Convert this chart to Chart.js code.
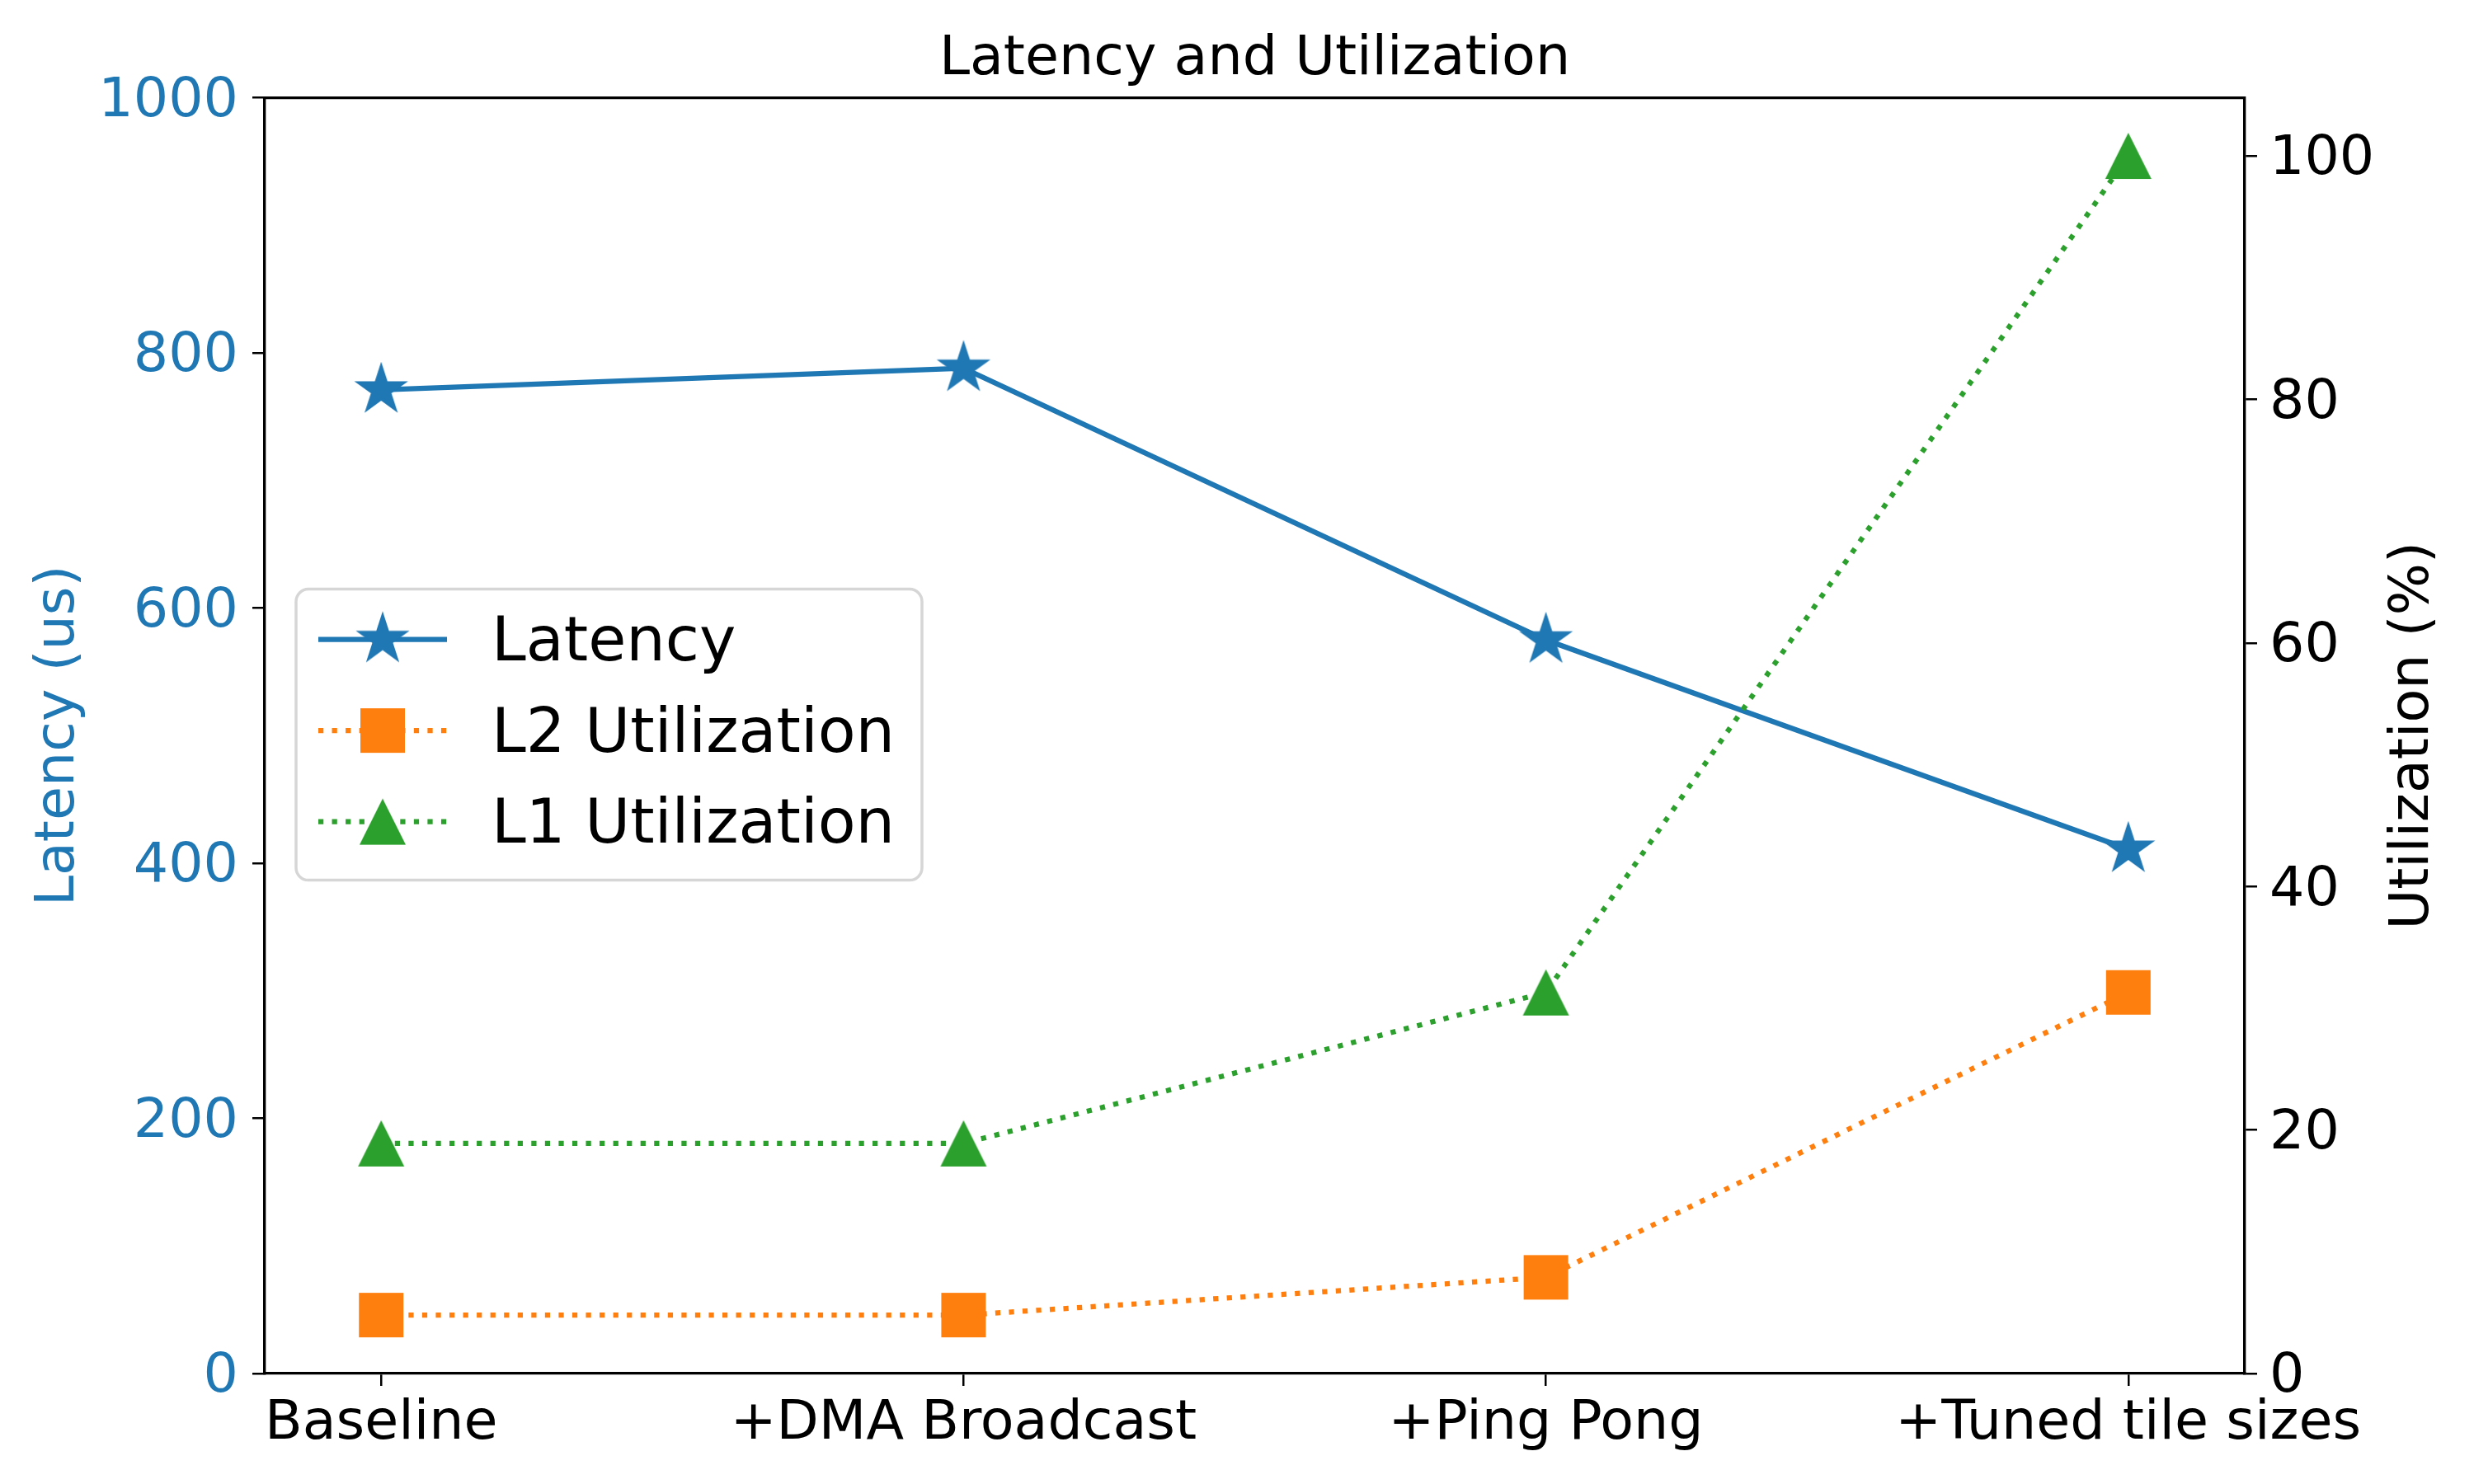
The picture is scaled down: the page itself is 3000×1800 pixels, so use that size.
<!DOCTYPE html>
<html><head><meta charset="utf-8">
<script src="https://cdn.jsdelivr.net/npm/chart.js@4.4.1/dist/chart.umd.min.js"></script>
<style>html,body{margin:0;padding:0;background:#fff;}#wrap{width:3000px;height:1800px;position:relative;}</style>
</head><body><div id="wrap"><canvas id="c"></canvas></div>
<script>
// ---- data ----
const categories = ['Baseline', '+DMA Broadcast', '+Ping Pong', '+Tuned tile sizes'];
const latency = [771, 788, 575, 411];
const l2Util = [4.8, 4.8, 7.9, 31.3];
const l1Util = [18.9, 18.9, 31.3, 100];
const latencyTicks = [0, 200, 400, 600, 800, 1000];
const utilTicks = [0, 20, 40, 60, 80, 100];
const seriesNames = ['Latency', 'L2 Utilization', 'L1 Utilization'];
const titleText = 'Latency and Utilization';
const leftAxisTitle = 'Latency (us)';
const rightAxisTitle = 'Utilization (%)';

// ---- styles ----
const FONT = 'DejaVu Sans';
const BLUE = '#1f77b4', ORANGE = '#ff7f0e', GREEN = '#2ca02c';
const LW = 6.25, DOT = [6.25, 10.3];
const TEXT_DY = 5; // shift of 'middle' baseline to centre cap height

function markerCanvas(kind, color) {
  const s = 76; const c = document.createElement('canvas'); c.width = s; c.height = s;
  const g = c.getContext('2d'); const cx = s / 2, cy = s / 2; g.fillStyle = color; g.beginPath();
  if (kind === 'star') {
    const R = 34.3, r = R * 0.381966;
    for (let k = 0; k < 10; k++) { const a = -Math.PI / 2 + k * Math.PI / 5; const rr = k % 2 ? r : R; g.lineTo(cx + rr * Math.cos(a), cy + rr * Math.sin(a)); }
  } else if (kind === 'square') {
    const h = 27; g.rect(cx - h, cy - h, 2 * h, 2 * h);
  } else {
    const h = 28; g.moveTo(cx, cy - h); g.lineTo(cx + h, cy + h); g.lineTo(cx - h, cy + h);
  }
  g.closePath(); g.fill(); return c;
}
const markers = [markerCanvas('star', BLUE), markerCanvas('square', ORANGE), markerCanvas('tri', GREEN)];
const colors = [BLUE, ORANGE, GREEN];
const dashes = [[], DOT, DOT];

const toXY = arr => arr.map((v, i) => ({x: i, y: v}));

const frameAndLegend = {
  id: 'frameAndLegend',
  afterDraw(chart) {
    const ctx = chart.ctx, ca = chart.chartArea;
    ctx.save();
    // top spine
    ctx.strokeStyle = '#000'; ctx.lineWidth = 3.33;
    ctx.beginPath(); ctx.moveTo(ca.left, ca.top); ctx.lineTo(ca.right, ca.top); ctx.stroke();
    // title, centred over the plot area
    ctx.font = '66.67px "' + FONT + '"'; ctx.fillStyle = '#000'; ctx.textAlign = 'center'; ctx.textBaseline = 'middle';
    ctx.fillText(titleText, (ca.left + ca.right) / 2, ca.top - 50.6 + TEXT_DY);
    // right axis title (reads bottom to top)
    ctx.save();
    ctx.translate(ca.right + 200 + TEXT_DY, (ca.top + ca.bottom) / 2); ctx.rotate(-Math.PI / 2);
    ctx.fillText(rightAxisTitle, 0, 0); ctx.restore();
    // legend
    const bx = ca.left + 38, by = ca.top + 596, bw = 759, bh = 353, rr = 15;
    ctx.beginPath();
    ctx.moveTo(bx + rr, by); ctx.lineTo(bx + bw - rr, by); ctx.arcTo(bx + bw, by, bx + bw, by + rr, rr);
    ctx.lineTo(bx + bw, by + bh - rr); ctx.arcTo(bx + bw, by + bh, bx + bw - rr, by + bh, rr);
    ctx.lineTo(bx + rr, by + bh); ctx.arcTo(bx, by + bh, bx, by + bh - rr, rr);
    ctx.lineTo(bx, by + rr); ctx.arcTo(bx, by, bx + rr, by, rr); ctx.closePath();
    ctx.fillStyle = 'rgba(255,255,255,0.8)'; ctx.fill();
    ctx.strokeStyle = '#d6d6d6'; ctx.lineWidth = 3.5; ctx.stroke();
    chart.data.datasets.forEach((ds, i) => {
      const y = by + 61 + i * 110.5;
      ctx.save();
      ctx.strokeStyle = colors[i]; ctx.lineWidth = LW; ctx.setLineDash(dashes[i]); ctx.lineCap = 'butt';
      ctx.beginPath(); ctx.moveTo(bx + 27, y); ctx.lineTo(bx + 183, y); ctx.stroke();
      ctx.restore();
      const m = markers[i];
      ctx.drawImage(m, bx + 105 - m.width / 2, y - m.height / 2);
      ctx.font = '75px "' + FONT + '"'; ctx.fillStyle = '#000'; ctx.textAlign = 'left'; ctx.textBaseline = 'middle';
      ctx.fillText(ds.label, bx + 237, y + TEXT_DY + 1);
    });
    ctx.restore();
  }
};

const mkDs = (label, data, i, axis, order) => ({
  label, data: toXY(data), yAxisID: axis, order,
  borderColor: colors[i], backgroundColor: colors[i], borderWidth: LW, borderDash: dashes[i],
  borderCapStyle: 'butt', tension: 0, fill: false,
  pointStyle: markers[i], pointRadius: 30, pointHoverRadius: 30
});

// y tick labels: empty first line + small line height nudges text down onto cap centre
const yLabel = v => ['', String(v)];

Chart.defaults.font.family = FONT;
new Chart(document.getElementById('c'), {
  type: 'line',
  data: {
    datasets: [
      mkDs(seriesNames[0], latency, 0, 'y', 3),
      mkDs(seriesNames[1], l2Util, 1, 'y1', 2),
      mkDs(seriesNames[2], l1Util, 2, 'y1', 1)
    ]
  },
  options: {
    responsive: true, maintainAspectRatio: false, animation: false,
    devicePixelRatio: 1,
    layout: {padding: {top: 118.6, left: 0, right: 0, bottom: 0}},
    plugins: {
      legend: {display: false}, tooltip: {enabled: false}, title: {display: false}
    },
    scales: {
      x: {
        type: 'linear', min: -0.2, max: 3.2,
        afterBuildTicks: s => { s.ticks = categories.map((c, i) => ({value: i})); },
        afterFit: s => { s.height = 134; },
        ticks: {callback: v => categories[v], color: '#000', font: {size: 66.67, lineHeight: 1.2}, padding: 7, maxRotation: 0, autoSkip: false},
        grid: {drawOnChartArea: false, color: '#000', lineWidth: 2.5, tickLength: 15},
        border: {display: true, color: '#000', width: 3.33}
      },
      y: {
        position: 'left', min: 0, max: 1000,
        afterBuildTicks: s => { s.ticks = latencyTicks.map(v => ({value: v})); },
        afterFit: s => { s.width = 321; },
        ticks: {callback: yLabel, color: BLUE, font: {size: 66.67, lineHeight: (2 * TEXT_DY) + 'px'}, padding: 17},
        grid: {drawOnChartArea: false, color: '#000', lineWidth: 2.5, tickLength: 15},
        border: {display: true, color: '#000', width: 3.33},
        title: {display: true, text: leftAxisTitle, color: BLUE, font: {size: 66.67, lineHeight: 1.2}, padding: {top: 27 + TEXT_DY, bottom: 0}}
      },
      y1: {
        position: 'right', min: 0, max: 104.77,
        afterBuildTicks: s => { s.ticks = utilTicks.map(v => ({value: v})); },
        afterFit: s => { s.width = 278; },
        ticks: {callback: yLabel, color: '#000', font: {size: 66.67, lineHeight: (2 * TEXT_DY) + 'px'}, padding: 15},
        grid: {drawOnChartArea: false, color: '#000', lineWidth: 2.5, tickLength: 15},
        border: {display: true, color: '#000', width: 3.33}
      }
    }
  },
  plugins: [frameAndLegend]
});
</script></body></html>
